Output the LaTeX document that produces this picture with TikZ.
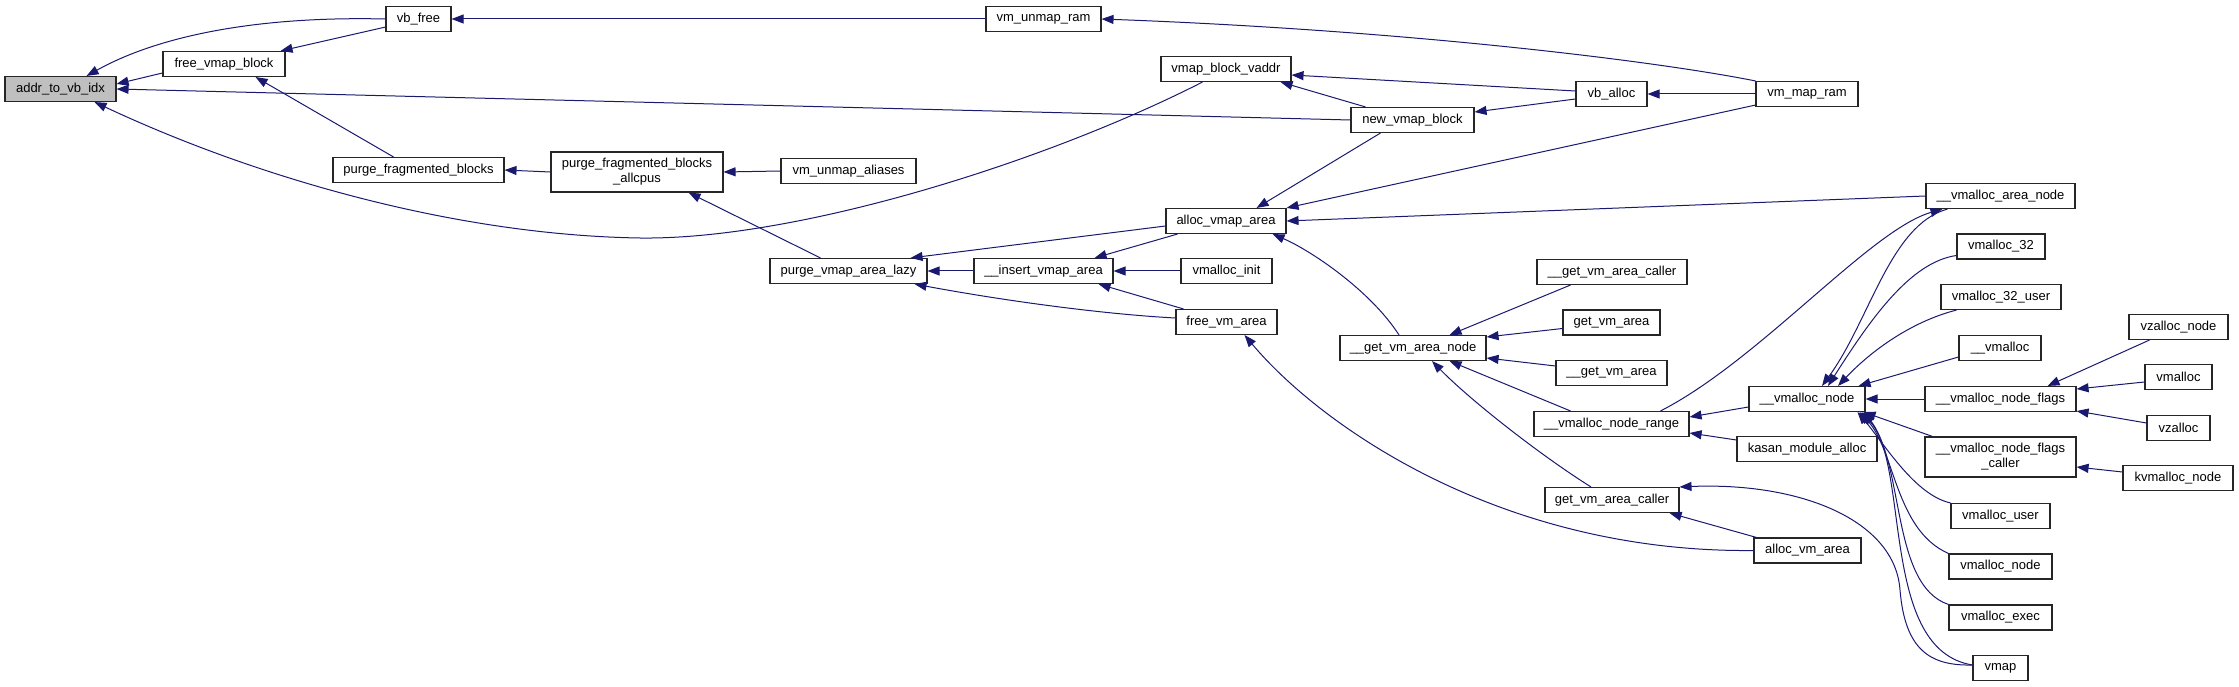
\documentclass[tikz,border=0pt]{standalone}
\usepackage{fontspec}
\setmainfont{Liberation Sans}
\usetikzlibrary{arrows.meta}
\definecolor{callblue}{HTML}{191970}
\definecolor{hlgray}{HTML}{BFBFBF}
\tikzset{
  fn/.style={draw=black!85, line width=1.1pt, fill=white, minimum height=25pt, inner sep=1pt,
    font=\fontsize{13}{15}\selectfont, align=center},
  fnhl/.style={fn, fill=hlgray},
  call/.style={draw=callblue, line width=1pt, {Triangle[length=12pt,width=9pt]}-}
}
\begin{document}
\begin{tikzpicture}[x=1pt,y=-1pt]
    \useasboundingbox (0,0) rectangle (2239,687);
    % functions
    \node[fnhl, minimum width=111pt] (addr) at (60.5,89) {addr\_to\_vb\_idx};
    \node[fn, minimum width=65pt] (vbfree) at (418.5,19) {vb\_free};
    \node[fn, minimum width=122pt] (freeblk) at (224,64) {free\_vmap\_block};
    \node[fn, minimum width=171pt] (purgefrag) at (418.5,170) {purge\_fragmented\_blocks};
    \node[fn, minimum width=172pt, minimum height=40pt] (purgeall) at (637,172) {purge\_fragmented\_blocks\\\_allcpus};
    \node[fn, minimum width=135pt] (unmapalias) at (848.5,171) {vm\_unmap\_aliases};
    \node[fn, minimum width=115pt] (unmapram) at (1043.5,19) {vm\_unmap\_ram};
    \node[fn, minimum width=130pt] (blkvaddr) at (1226,69) {vmap\_block\_vaddr};
    \node[fn, minimum width=123pt] (newblk) at (1412.5,120) {new\_vmap\_block};
    \node[fn, minimum width=71pt] (vballoc) at (1611.5,94) {vb\_alloc};
    \node[fn, minimum width=102pt] (mapram) at (1807,94) {vm\_map\_ram};
    \node[fn, minimum width=157pt] (purgelazy) at (848.5,271) {purge\_vmap\_area\_lazy};
    \node[fn, minimum width=120pt] (allocva) at (1226,221) {alloc\_vmap\_area};
    \node[fn, minimum width=139pt] (insertva) at (1043.5,271) {\_\_insert\_vmap\_area};
    \node[fn, minimum width=91pt] (vminit) at (1226.5,271) {vmalloc\_init};
    \node[fn, minimum width=101pt] (freevm) at (1226.5,322) {free\_vm\_area};
    \node[fn, minimum width=146pt] (getnode) at (1413,348) {\_\_get\_vm\_area\_node};
    \node[fn, minimum width=150pt] (getcaller2) at (1612,272) {\_\_get\_vm\_area\_caller};
    \node[fn, minimum width=97pt] (getvm) at (1611.5,322.5) {get\_vm\_area};
    \node[fn, minimum width=111pt] (getvm2) at (1611.5,373) {\_\_get\_vm\_area};
    \node[fn, minimum width=155pt] (noderange) at (1611.5,424) {\_\_vmalloc\_node\_range};
    \node[fn, minimum width=134pt] (getcaller) at (1612,500) {get\_vm\_area\_caller};
    \node[fn, minimum width=116pt] (vnode) at (1807,399) {\_\_vmalloc\_node};
    \node[fn, minimum width=140pt] (kasan) at (1807,449) {kasan\_module\_alloc};
    \node[fn, minimum width=107pt] (allocvm) at (1807.5,550.5) {alloc\_vm\_area};
    \node[fn, minimum width=149pt] (areanode) at (2000.5,196) {\_\_vmalloc\_area\_node};
    \node[fn, minimum width=88pt] (v32) at (2001,246.5) {vmalloc\_32};
    \node[fn, minimum width=120pt] (v32u) at (2001,297) {vmalloc\_32\_user};
    \node[fn, minimum width=82pt] (uvmalloc) at (2000,348) {\_\_vmalloc};
    \node[fn, minimum width=151pt] (nodeflags) at (2000.5,399) {\_\_vmalloc\_node\_flags};
    \node[fn, minimum width=151pt, minimum height=40pt] (flagscaller) at (2000.5,457) {\_\_vmalloc\_node\_flags\\\_caller};
    \node[fn, minimum width=99pt] (vuser) at (2000.5,516) {vmalloc\_user};
    \node[fn, minimum width=103pt] (vmnode) at (2000.5,566.5) {vmalloc\_node};
    \node[fn, minimum width=103pt] (vexec) at (2000.5,617.5) {vmalloc\_exec};
    \node[fn, minimum width=55pt] (vmap) at (2000.5,668) {vmap};
    \node[fn, minimum width=99pt] (vzallocnode) at (2178.5,327) {vzalloc\_node};
    \node[fn, minimum width=67pt] (vmallocf) at (2178.5,377) {vmalloc};
    \node[fn, minimum width=63pt] (vzalloc) at (2178.5,428) {vzalloc};
    \node[fn, minimum width=110pt] (kvnode) at (2178,478) {kvmalloc\_node};
    % straight calls, arrow at the callee
    \foreach \a/\b in {addr.east/newblk.west, vbfree.east/unmapram.west,
        purgefrag.east/purgeall.west, purgeall.east/unmapalias.west,
        vballoc.east/mapram.west, allocva.east/areanode.west,
        purgelazy.east/insertva.west, insertva.east/vminit.west,
        vnode.east/nodeflags.west}
    {
    \draw[call] (\a) -- (\b);
    }
    \draw[call] ([yshift=5pt]addr.east) -- ([yshift=-9pt]freeblk.west);
    \draw[call] ([xshift=-5pt]freeblk.north east) -- ([yshift=5pt]vbfree.south west);
    \draw[call] ([xshift=-30pt]freeblk.south east) -- ([xshift=-25pt]purgefrag.north);
    \draw[call] ([xshift=-35pt]purgeall.south east) -- ([xshift=-28pt]purgelazy.north);
    \draw[call] ([yshift=-6pt]blkvaddr.east) -- ([yshift=3pt]vballoc.west);
    \draw[call] ([xshift=-11pt]blkvaddr.south east) -- ([xshift=15pt]newblk.north west);
    \draw[call] ([yshift=8pt]newblk.east) -- ([yshift=-5pt]vballoc.west);
    \draw[call] ([xshift=-30pt]allocva.north east) -- ([xshift=30pt]newblk.south west);
    \draw[call] (allocva.north east) -- ([yshift=2pt]mapram.south west);
    \draw[call] ([xshift=-17pt]purgelazy.north east) -- ([yshift=-5pt]allocva.west);
    \draw[call] ([xshift=-19pt]insertva.north east) -- ([xshift=12pt]allocva.south west);
    \draw[call] ([xshift=-15pt]insertva.south east) -- ([xshift=8pt]freevm.north west);
    \draw[call] ([xshift=-37pt]getnode.north east) -- ([xshift=34pt]getcaller2.south west);
    \draw[call] ([yshift=11pt]getnode.east) -- ([yshift=-6pt]getvm.west);
    \draw[call] ([yshift=-10pt]getnode.east) -- ([yshift=7pt]getvm2.west);
    \draw[call] ([xshift=-37pt]getnode.south east) -- ([xshift=37pt]noderange.north west);
    \draw[call] ([yshift=7pt]noderange.east) -- ([yshift=-8pt]vnode.west);
    \draw[call] ([yshift=-9pt]noderange.east) -- ([yshift=9pt]kasan.west);
    \draw[call] ([xshift=-10pt]getcaller.south east) -- ([xshift=3pt]allocvm.north west);
    \draw[call] ([xshift=-7pt]vnode.north east) -- ([yshift=-9pt]uvmalloc.west);
    \draw[call] ([xshift=-2pt]vnode.south east) -- ([xshift=8pt]flagscaller.north west);
    \draw[call] ([xshift=-29pt]nodeflags.north east) -- ([xshift=21pt]vzallocnode.south west);
    \draw[call] ([yshift=10pt]nodeflags.east) -- ([yshift=-5pt]vmallocf.west);
    \draw[call] ([yshift=-12pt]nodeflags.east) -- ([yshift=5pt]vzalloc.west);
    \draw[call] ([yshift=-10pt]flagscaller.east) -- ([yshift=6pt]kvnode.west);
    % curved calls
    \draw[call] ([xshift=-30pt]addr.north east) .. controls (160,35) and (260,16) .. (vbfree.west);
    \draw[call] ([xshift=-22pt]addr.south east) .. controls (250,175) and (450,235) .. (640,238)
        .. controls (800,240) and (1050,160) .. ([xshift=42pt]blkvaddr.south west);
    \draw[call] (unmapram.east) .. controls (1400,30) and (1650,60) .. (mapram.north west);
    \draw[call] ([xshift=-13pt]purgelazy.south east) .. controls (1000,300) and (1100,314) .. ([yshift=4pt]freevm.west);
    \draw[call] ([xshift=-33pt]freevm.south east) .. controls (1320,425) and (1500,553) .. (allocvm.west);
    \draw[call] ([xshift=-14pt]allocva.south east) .. controls (1310,250) and (1370,290) .. ([xshift=-14pt]getnode.north);
    \draw[call] ([xshift=19pt]getnode.south) .. controls (1470,400) and (1540,455) .. ([xshift=-21pt]getcaller.north);
    \draw[call] ([xshift=17pt]areanode.south west) .. controls (1870,230) and (1760,360) .. ([xshift=-29pt]noderange.north east);
    \draw[call] ([xshift=15pt]vnode.north) .. controls (1870,320) and (1890,225) .. ([xshift=22pt]areanode.south west);
    \draw[call] ([xshift=21pt]vnode.north) .. controls (1870,320) and (1910,262) .. ([yshift=-9pt]v32.west);
    \draw[call] ([xshift=31pt]vnode.north) .. controls (1870,352) and (1910,322) .. ([xshift=16pt]v32u.south west);
    \draw[call] ([xshift=-8pt]vnode.south east) .. controls (1885,445) and (1915,495) .. (vuser.north west);
    \draw[call] ([xshift=-6pt]vnode.south east) .. controls (1895,450) and (1895,530) .. (vmnode.north west);
    \draw[call] ([xshift=-4pt]vnode.south east) .. controls (1905,460) and (1890,585) .. (vexec.north west);
    \draw[call] ([xshift=-2pt]vnode.south east) .. controls (1910,470) and (1880,650) .. ([yshift=3pt]vmap.west);
    \draw[call] (getcaller.north east) .. controls (1800,482) and (1895,520) .. (1900,590)
        .. controls (1905,650) and (1930,666) .. ([yshift=3pt]vmap.west);
\end{tikzpicture}
\end{document}
